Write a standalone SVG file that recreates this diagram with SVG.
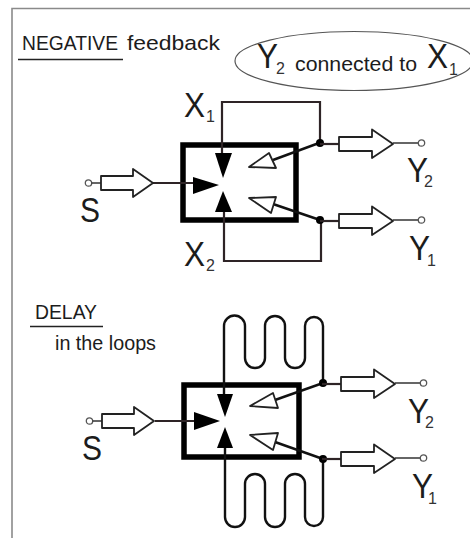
<svg xmlns="http://www.w3.org/2000/svg" width="470" height="538" viewBox="0 0 470 538">
<style>
text{font-family:"Liberation Sans",Arial,sans-serif;fill:#1c1c1c}
.t{font-size:21px}
.big{font-size:35px}
.sub{font-size:16px;fill:#333}
.wire{fill:none;stroke:#2e2426;stroke-width:2.2}
.blk{fill:none;stroke:#111;stroke-width:2.4}
.box{fill:#fff;stroke:#000;stroke-width:5.500}
.hollow{fill:#fff;stroke:#222;stroke-width:1.800;stroke-linejoin:round}
.thin{fill:none;stroke:#333;stroke-width:1.500}
.open{fill:#fff;stroke:#555;stroke-width:1.300}
.solid{fill:#000}
.dot{fill:#000}
</style>
<defs>
<g id="out"><path class="wire" d="M0 0H20"/><path class="hollow" d="M19 -7H52V-14.500L73 0L52 14V7H19Z"/><path class="thin" d="M73 -1H98"/><circle class="open" cx="101.500" cy="-1" r="3.200"/></g>
<g id="inp"><circle class="open" cx="-1.500" cy="0" r="3.200"/><path class="thin" d="M1.500 0H11"/><path class="hollow" d="M11 -7H43V-14L63 0L43 14V7H11Z"/></g>
</defs>
<rect width="470" height="538" fill="#fff"/>
<path d="M12 538V8.500H470" fill="none" stroke="#8a8a8a" stroke-width="1.600"/>
<g id="top-box"><rect class="box" x="183" y="145" width="113" height="75"/></g>
<g id="bottom-box"><rect class="box" x="184" y="385" width="115" height="72"/></g>
<g id="connectors">
<path class="wire" d="M222 158V102H320V143"/>
<path class="wire" d="M224 205V261H321V221"/>
<path class="wire" d="M153 183H195"/>
<path class="blk" d="M273 160L319 143"/>
<path class="blk" d="M273 204L320 220"/>
<path class="blk" d="M224 398V326a10.500 10.500 0 0 1 21 0V358a10 10 0 0 0 20 0V326a10 10 0 0 1 20 0V358a10 10 0 0 0 20 0V326a9 9 0 0 1 18 0V381"/>
<path class="blk" d="M225 445V517a10 10 0 0 0 20 0V484a10 10 0 0 1 20 0V517a10 10 0 0 0 20 0V484a10 10 0 0 1 20 0V517a9 9 0 0 0 18 0V459"/>
<path class="wire" d="M155 421H196"/>
<path class="blk" d="M275 400L323 383"/>
<path class="blk" d="M275 442L323 459"/>
</g>
<g id="title-negative"><text class="t" x="22" y="50" textLength="96" lengthAdjust="spacingAndGlyphs">NEGATIVE</text><text class="t" x="127" y="50" textLength="93" lengthAdjust="spacingAndGlyphs">feedback</text><path d="M18 59.500H123" stroke="#222" stroke-width="1.400"/></g>
<g id="note"><ellipse cx="354" cy="61" rx="119" ry="29.500" fill="none" stroke="#555" stroke-width="1.200"/>
<text class="big" x="257" y="68" textLength="21" lengthAdjust="spacingAndGlyphs">Y</text><text class="sub" x="276" y="74">2</text><text class="t" x="295" y="71" textLength="122" lengthAdjust="spacingAndGlyphs">connected to</text><text class="big" x="427" y="68" textLength="21" lengthAdjust="spacingAndGlyphs">X</text><text class="sub" x="449" y="75">1</text></g>
<g id="top-arrows">
<polygon class="solid" points="215,153 232,153 223,178"/>
<polygon class="solid" points="193,177 219,185 193,194"/>
<polygon class="solid" points="215,212 232,212 223,191"/>
<path class="hollow" d="M249 167L269 153L276 168Z"/>
<path class="hollow" d="M249 198L276 197L271 213Z"/>
<circle class="dot" cx="320" cy="143" r="4"/><circle class="dot" cx="320" cy="220" r="4"/>
</g>
<g id="top-in"><use href="#inp" x="90" y="183"/></g>
<g id="top-out-2"><use href="#out" x="320" y="144"/></g>
<g id="top-out-1"><use href="#out" x="320" y="221"/></g>
<g id="top-labels">
<text class="big" x="184" y="117" textLength="21" lengthAdjust="spacingAndGlyphs">X</text><text class="sub" x="206" y="122">1</text>
<text class="big" x="184" y="266" textLength="21" lengthAdjust="spacingAndGlyphs">X</text><text class="sub" x="206" y="271">2</text>
<text class="big" x="80" y="222" textLength="20" lengthAdjust="spacingAndGlyphs">S</text>
<text class="big" x="407" y="182" textLength="21" lengthAdjust="spacingAndGlyphs">Y</text><text class="sub" x="424" y="187">2</text>
<text class="big" x="409" y="260" textLength="21" lengthAdjust="spacingAndGlyphs">Y</text><text class="sub" x="427" y="266">1</text>
</g>
<g id="title-delay"><text class="t" x="35" y="319" textLength="62" lengthAdjust="spacingAndGlyphs">DELAY</text><path d="M30 326.500H103" stroke="#222" stroke-width="1.400"/><text class="t" x="55" y="350" textLength="101" lengthAdjust="spacingAndGlyphs">in the loops</text></g>
<g id="bottom-arrows">
<polygon class="solid" points="217,394 233,394 225,417"/>
<polygon class="solid" points="194,412 220,421 194,430"/>
<polygon class="solid" points="217,448 233,448 225,427"/>
<path class="hollow" d="M250 406L273 393L278 408Z"/>
<path class="hollow" d="M250 435L278 433L273 450Z"/>
<circle class="dot" cx="323" cy="383" r="4"/><circle class="dot" cx="323" cy="459" r="4"/>
</g>
<g id="bottom-in"><use href="#inp" x="91" y="421"/></g>
<g id="bottom-out-2"><use href="#out" x="322" y="384"/></g>
<g id="bottom-out-1"><use href="#out" x="322" y="459"/></g>
<g id="bottom-labels">
<text class="big" x="82" y="460" textLength="20" lengthAdjust="spacingAndGlyphs">S</text>
<text class="big" x="408" y="423" textLength="21" lengthAdjust="spacingAndGlyphs">Y</text><text class="sub" x="425" y="428">2</text>
<text class="big" x="412" y="498" textLength="21" lengthAdjust="spacingAndGlyphs">Y</text><text class="sub" x="428" y="504">1</text>
</g>
</svg>
